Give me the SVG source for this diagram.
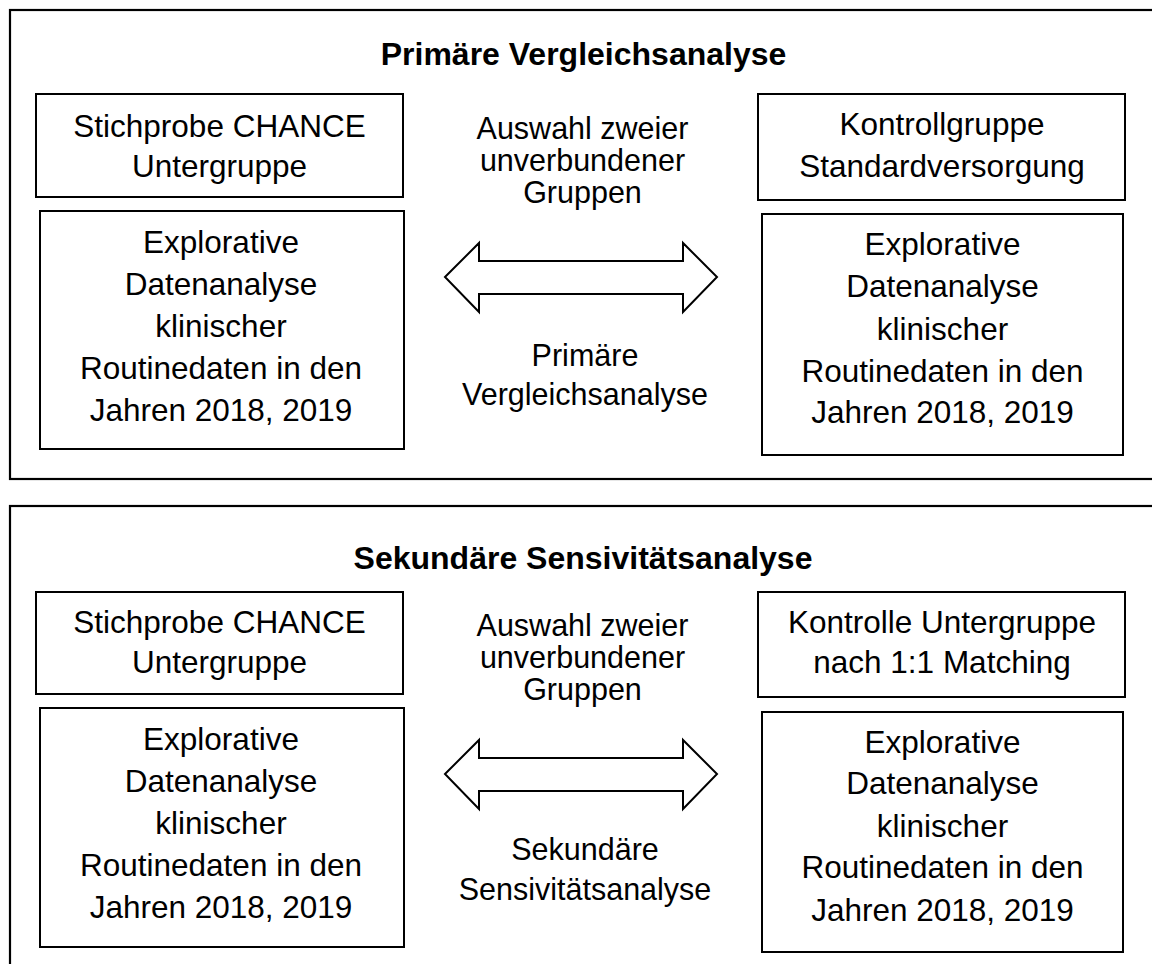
<svg xmlns="http://www.w3.org/2000/svg" width="1152" height="964" viewBox="0 0 1152 964">
<style>
.frame{fill:none;stroke:#000;stroke-width:2.2}
.box{fill:#fff;stroke:#000;stroke-width:2}
.arrow{fill:#fff;stroke:#000;stroke-width:2;stroke-linejoin:miter}
text{font-family:"Liberation Sans",Arial,sans-serif;fill:#000;text-anchor:middle}
.title{font-size:32px;font-weight:bold}
.bt{font-size:31.5px}
.mt{font-size:30.5px}
</style>
<rect width="1152" height="964" fill="#fff"/>
<g id="panel1">
  <rect class="frame" x="10" y="10" width="1160" height="469"/>
  <text class="title" x="583.5" y="65">Primäre Vergleichsanalyse</text>
</g>
<g id="p1-stichprobe">
  <rect class="box" x="36" y="94" width="367" height="103"/>
  <text class="bt" x="219.5" y="137">Stichprobe CHANCE</text>
  <text class="bt" x="219.5" y="177">Untergruppe</text>
</g>
<g id="p1-explorativ-links">
  <rect class="box" x="40" y="211" width="364" height="238"/>
  <text class="bt" x="221" y="253">Explorative</text>
  <text class="bt" x="221" y="295">Datenanalyse</text>
  <text class="bt" x="221" y="337">klinischer</text>
  <text class="bt" x="221" y="379">Routinedaten in den</text>
  <text class="bt" x="221" y="421">Jahren 2018, 2019</text>
</g>
<g id="p1-kontrollgruppe">
  <rect class="box" x="758" y="94" width="367" height="106"/>
  <text class="bt" x="942" y="135">Kontrollgruppe</text>
  <text class="bt" x="942" y="177">Standardversorgung</text>
</g>
<g id="p1-explorativ-rechts">
  <rect class="box" x="762" y="214" width="361" height="241"/>
  <text class="bt" x="942.5" y="255">Explorative</text>
  <text class="bt" x="942.5" y="297">Datenanalyse</text>
  <text class="bt" x="942.5" y="340">klinischer</text>
  <text class="bt" x="942.5" y="382">Routinedaten in den</text>
  <text class="bt" x="942.5" y="423">Jahren 2018, 2019</text>
</g>
<g id="p1-auswahl">
  <text class="mt" x="582.5" y="139">Auswahl zweier</text>
  <text class="mt" x="582.5" y="171">unverbundener</text>
  <text class="mt" x="582.5" y="203">Gruppen</text>
</g>
<g id="p1-label">
  <text class="mt" x="585" y="366">Primäre</text>
  <text class="mt" x="585" y="405">Vergleichsanalyse</text>
</g>

<g id="panel2">
  <rect class="frame" x="10" y="506" width="1160" height="500"/>
  <text class="title" x="583" y="569">Sekundäre Sensivitätsanalyse</text>
</g>
<g id="p2-stichprobe">
  <rect class="box" x="36" y="592" width="367" height="102"/>
  <text class="bt" x="219.5" y="633">Stichprobe CHANCE</text>
  <text class="bt" x="219.5" y="673">Untergruppe</text>
</g>
<g id="p2-explorativ-links">
  <rect class="box" x="40" y="708" width="364" height="239"/>
  <text class="bt" x="221" y="750">Explorative</text>
  <text class="bt" x="221" y="792">Datenanalyse</text>
  <text class="bt" x="221" y="834">klinischer</text>
  <text class="bt" x="221" y="876">Routinedaten in den</text>
  <text class="bt" x="221" y="918">Jahren 2018, 2019</text>
</g>
<g id="p2-kontrolle">
  <rect class="box" x="758" y="592" width="367" height="105"/>
  <text class="bt" x="942" y="633">Kontrolle Untergruppe</text>
  <text class="bt" x="942" y="673">nach 1:1 Matching</text>
</g>
<g id="p2-explorativ-rechts">
  <rect class="box" x="762" y="712" width="361" height="240"/>
  <text class="bt" x="942.5" y="753">Explorative</text>
  <text class="bt" x="942.5" y="794">Datenanalyse</text>
  <text class="bt" x="942.5" y="837">klinischer</text>
  <text class="bt" x="942.5" y="878">Routinedaten in den</text>
  <text class="bt" x="942.5" y="921">Jahren 2018, 2019</text>
</g>
<g id="p2-auswahl">
  <text class="mt" x="582.5" y="636">Auswahl zweier</text>
  <text class="mt" x="582.5" y="668">unverbundener</text>
  <text class="mt" x="582.5" y="700">Gruppen</text>
</g>
<g id="p2-label">
  <text class="mt" x="585" y="860">Sekundäre</text>
  <text class="mt" x="585" y="900">Sensivitätsanalyse</text>
</g>

<g id="connectors">
  <polygon class="arrow" points="445,277 479,243 479,261 683,261 683,243 717,277 683,312 683,294 479,294 479,312"/>
  <polygon class="arrow" points="445,774 479,740 479,758 683,758 683,740 717,774 683,809 683,791 479,791 479,809"/>
</g>
</svg>
